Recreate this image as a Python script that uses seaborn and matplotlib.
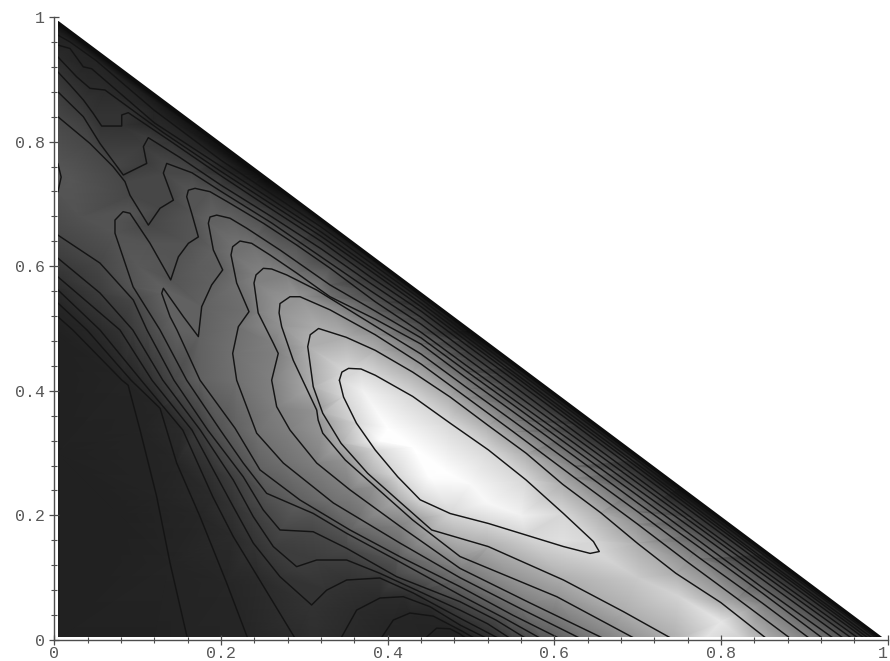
import matplotlib
matplotlib.use("Agg")
import matplotlib.pyplot as plt
import matplotlib.tri as mtri
import numpy as np
import seaborn as sns

# contour lines, from level 2 (dark) to level 14 (around the peak)
p14_x = [.342, .345, .353, .368, .385, .430, .475, .521, .566, .611, .647, .654, .643, .611, .566, .521, .475, .439, .412, .385, .3625, .347, .342]
p14_y = [.417, .43, .436, .435, .425, .391, .348, .305, .257, .203, .158, .142, .139, .15, .1685, .187, .203, .225, .262, .305, .348, .39, .417]

k13_x = [.857, .80, .746, .70, .656, .61, .566, .52, .475, .43, .385, .35, .317, .307, .304, .3106, .322, .344, .376, .412, .4528, .5207, .611, .683, .744]
k13_y = [0, .06, .107, .155, .204, .25, .30, .345, .39, .43, .465, .486, .50, .49, .471, .4066, .364, .3157, .2675, .2247, .1766, .15, .0963, .0455, 0]

j12_x = [.886, .82, .76, .70, .625, .55, .495, .44, .385, .3307, .2947, .2827, .2707, .2696, .2727, .2866, .3148, .3165, .322, .349, .385, .43, .4868, .603, .70]
j12_y = [0, .066, .125, .186, .26, .335, .389, .443, .49, .53, .551, .551, .54, .525, .503, .449, .369, .353, .332, .289, .246, .1926, .134, .0695, 0]

i11_x = [.909, .85, .775, .70, .625, .55, .495, .44, .38, .3147, .2787, .2607, .2507, .2419, .2395, .2445, .2625, .2686, .2607, .2667, .2827, .3148, .3547, .4147, .4868, .57, .663]
i11_y = [0, .059, .131, .206, .279, .352, .405, .459, .508, .5618, .586, .5955, .5966, .586, .573, .525, .477, .46, .417, .3745, .337, .284, .241, .1826, .115, .06, 0]

h10_x = [.925, .85, .775, .70, .625, .55, .495, .44, .385, .3307, .2907, .2587, .2367, .2227, .2139, .2119, .2187, .2335, .2207, .2139, .2187, .2427, .2747, .3347, .4147, .4868, .56, .635]
h10_y = [0, .075, .148, .22, .294, .367, .42, .475, .515, .551, .589, .618, .6367, .6404, .6313, .618, .573, .527, .5029, .46, .417, .332, .284, .22, .1556, .10, .05, 0]

g9_x = [.938, .85, .775, .70, .625, .55, .495, .44, .385, .3307, .2707, .2307, .2107, .1947, .1867, .1847, .1907, .2019, .1887, .1767, .1727, .1547, .1307, .1287, .1387, .147, .1747, .2167, .2467, .2947, .3547, .4147, .4868, .55, .61]
g9_y = [0, .084, .158, .232, .305, .378, .431, .485, .528, .57, .626, .661, .677, .682, .679, .669, .626, .594, .57, .535, .487, .519, .5645, .5565, .519, .4976, .417, .34, .273, .2247, .1766, .1337, .0856, .04, 0]

f8_x = [.95, .85, .775, .70, .625, .55, .495, .44, .385, .3307, .2907, .2507, .2107, .1867, .1687, .1607, .1587, .1647, .1727, .1607, .1487, .1395, .1147, .0906, .0823, .0726, .0726, .0943, .1267, .1587, .199, .2266, .2547, .3105, .3507, .4108, .4868, .54, .587]
f8_y = [0, .097, .17, .242, .315, .387, .44, .494, .543, .597, .634, .669, .701, .7196, .725, .722, .7115, .685, .647, .6367, .615, .578, .6367, .685, .6875, .674, .653, .567, .4976, .417, .337, .284, .2354, .2032, .1712, .128, .0722, .035, 0]
f8_blob_x = [.004, .008, .004]
f8_blob_y = [.765, .743, .719]

e7_up_x = [.96, .85, .775, .70, .625, .55, .495, .44, .38, .32, .26, .20, .165, .1347, .1307, .1427, .1267, .1127, .0906, .0846, .0702, .0426, .004]
e7_up_y = [0, .106, .179, .252, .325, .398, .452, .507, .56, .615, .67, .72, .75, .765, .7495, .706, .693, .666, .714, .7357, .76, .797, .84]
e7_low_x = [.004, .0546, .0946, .111, .1434, .184, .2266, .2506, .2707, .3105, .3507, .4108, .4868, .53, .569]
e7_low_y = [.65, .605, .5457, .4976, .417, .337, .262, .2087, .1766, .1738, .1472, .1016, .0615, .032, 0]

d6_up_x = [.968, .85, .775, .70, .625, .55, .495, .44, .38, .32, .26, .20, .15, .1126, .1067, .1107, .0826, .0546, .0346, .004]
d6_up_y = [0, .113, .186, .26, .334, .409, .463, .518, .572, .628, .68, .73, .775, .8063, .792, .765, .7464, .797, .84, .88]
d6_low_x = [.004, .0546, .094, .13, .175, .2146, .2386, .2626, .2907, .3147, .3507, .3907, .4507, .4868, .52, .55]
d6_low_y = [.613, .557, .4976, .417, .337, .2568, .198, .15, .1177, .1284, .1284, .107, .07, .048, .026, 0]

c5_up_x = [.975, .85, .775, .70, .625, .55, .495, .44, .38, .32, .26, .20, .14, .0886, .0807, .0807, .0566, .0466, .0346, .0186, .004]
c5_up_y = [0, .122, .196, .27, .345, .419, .473, .528, .582, .64, .692, .745, .80, .8464, .8427, .825, .825, .845, .867, .891, .912]
c5_low_x = [.004, .0786, .117, .165, .1907, .2146, .2386, .2707, .3087, .3267, .3507, .3907, .4307, .4868, .537]
c5_low_y = [.583, .4976, .417, .337, .273, .214, .1556, .1016, .0562, .08, .0963, .0995, .0754, .035, 0]

b4_up_x = [.98, .85, .775, .70, .625, .55, .495, .44, .38, .32, .26, .20, .13, .0606, .0426, .0266, .004]
b4_up_y = [0, .128, .202, .277, .351, .426, .48, .535, .592, .648, .70, .752, .815, .8828, .8855, .904, .936]
b4_low_x = [.004, .0546, .104, .154, .19, .2146, .2446, .29]
b4_low_y = [.562, .4976, .417, .337, .23, .166, .10, 0]
b4_arc_x = [.3427, .3627, .3907, .4187, .4507, .4868, .523]
b4_arc_y = [0, .048, .0674, .0695, .0535, .024, 0]

a3_up_x = [.985, .85, .70, .55, .44, .32, .20, .12, .0446, .0346, .0186, .004]
a3_up_y = [0, .132, .282, .431, .541, .655, .76, .83, .917, .92, .9495, .955]
a3_low_x = [.004, .039, .0919, .1267, .1467, .1747, .2067, .2327]
a3_low_y = [.541, .4976, .417, .372, .284, .198, .0915, 0]
a3_arc_x = [.3907, .4067, .4267, .4547, .4868, .508]
a3_arc_y = [0, .032, .0433, .0383, .016, 0]

a2_up_x = [.99, .85, .70, .55, .44, .32, .20, .12, .05, .0186, .004]
a2_up_y = [0, .138, .288, .437, .547, .663, .77, .85, .93, .96, .971]
a2_low_x = [.004, .022, .081, .0884, .1027, .1227, .1387, .16]
a2_low_y = [.519, .4976, .417, .409, .337, .23, .1236, 0]
a2_arc_x = [.4427, .4587, .4748, .4868, .497]
a2_arc_y = [0, .019, .018, .0096, 0]

# shading values between the lines
extra_x = [.004, .004, .004, .08, .12, .47, .31, .02, .03, .1, .17,
           .43, .40, .47, .52, .37, .39, .45, .50, .56, .61, .70, .75, .80, .78, .83,
           .004, .25, .5, .75, .995]
extra_y = [0, .30, .49, .2, 0, 0, 0, .74, .68, .6, .60,
           .31, .34, .27, .22, .40, .32, .26, .25, .20, .16, .10, .07, .03, 0, 0,
           .991, .745, .495, .245, 0]
extra_z = [1, 1, 1, 1, 1.5, 1.5, 4.5, 8.1, 7.8, 8.4, 8.6,
           15, 15, 15, 14.8, 14.6, 14.9, 14.9, 14.8, 14.6, 14.2, 13.7, 13.9, 14.4, 14.2, 13.7,
           0, 0, 0, 0, 0]

level_grays = [.03, .13, .14, .15, .17, .2, .24, .28, .33, .38, .44, .5, .58, .68, .84, 1.0]

hyp_x = [.004, .995]
hyp_y = [.991, 0]

tick_major = [0, .2, .4, .6, .8, 1]
tick_labels = ["0", "0.2", "0.4", "0.6", "0.8", "1"]
tick_minor = [.04, .08, .12, .16, .24, .28, .32, .36, .44, .48, .52, .56, .64, .68, .72, .76, .84, .88, .92, .96]

lines = [
    (14, p14_x, p14_y), (13, k13_x, k13_y), (12, j12_x, j12_y), (11, i11_x, i11_y),
    (10, h10_x, h10_y), (9, g9_x, g9_y), (8, f8_x, f8_y), (8, f8_blob_x, f8_blob_y),
    (7, e7_up_x, e7_up_y), (7, e7_low_x, e7_low_y), (6, d6_up_x, d6_up_y), (6, d6_low_x, d6_low_y),
    (5, c5_up_x, c5_up_y), (5, c5_low_x, c5_low_y), (4, b4_up_x, b4_up_y), (4, b4_low_x, b4_low_y),
    (4, b4_arc_x, b4_arc_y), (3, a3_up_x, a3_up_y), (3, a3_low_x, a3_low_y), (3, a3_arc_x, a3_arc_y),
    (2, a2_up_x, a2_up_y), (2, a2_low_x, a2_low_y), (2, a2_arc_x, a2_arc_y),
]

sns.set_style("ticks")
plt.rcParams["font.family"] = ["Liberation Mono", "DejaVu Sans Mono"]

fig = plt.figure(figsize=(8.9, 6.61), dpi=100)
ax = fig.add_axes([0, 0, 1, 1])
ax.patch.set_alpha(0)

# background shading on a mesh through all the read points
all_x = np.concatenate([np.array(x) for _, x, _ in lines] + [np.array(extra_x)])
all_y = np.concatenate([np.array(y) for _, _, y in lines] + [np.array(extra_y)])
all_z = np.concatenate([np.full(len(x), float(lv)) for lv, x, _ in lines] + [np.array(extra_z)])
mesh = mtri.Triangulation(all_x, all_y)
cmap = sns.blend_palette([str(g) for g in level_grays], n_colors=256, as_cmap=True)
ax.tripcolor(mesh, all_z, shading="gouraud", cmap=cmap, vmin=0, vmax=15, zorder=1)

for level, x, y in lines:
    sns.lineplot(x=x, y=y, sort=False, estimator=None, color="0.08", linewidth=1.05, ax=ax, zorder=2)
sns.lineplot(x=hyp_x, y=hyp_y, sort=False, estimator=None, color="0.05", linewidth=2.4, ax=ax, zorder=2)

# white gap between the shading and the axes
ax.axhspan(-.04, .005, color="white", lw=0, zorder=2.2)
ax.axvspan(-.07, .004, color="white", lw=0, zorder=2.2)

ax.set_xlim(-54.5 / 833, (890 - 54.5) / 833)
ax.set_ylim(-21 / 623, 640 / 623)
ax.set_axisbelow(False)
ax.spines["left"].set_position(("data", 0))
ax.spines["bottom"].set_position(("data", 0))
ax.spines["left"].set_bounds(0, 1)
ax.spines["bottom"].set_bounds(0, 1)
sns.despine(ax=ax)
for s in ["left", "bottom"]:
    ax.spines[s].set_color("0.3")
    ax.spines[s].set_linewidth(1.0)
    ax.spines[s].set_zorder(4)

ax.set_xticks(tick_major, tick_labels)
ax.set_yticks(tick_major, tick_labels)
ax.set_xticks(tick_minor, minor=True)
ax.set_yticks(tick_minor, minor=True)
ax.tick_params(which="major", direction="inout", length=7, width=0.9, color="0.3",
               labelsize=12, labelcolor="0.35", pad=1)
ax.tick_params(which="minor", direction="inout", length=4.5, width=0.8, color="0.3")
ax.tick_params(axis="y", which="major", pad=3.5)
ax.get_xticklabels()[-1].set_ha("right")
ax.set_xlabel("")
ax.set_ylabel("")

fig.savefig("out.png", dpi=100, facecolor="white")
